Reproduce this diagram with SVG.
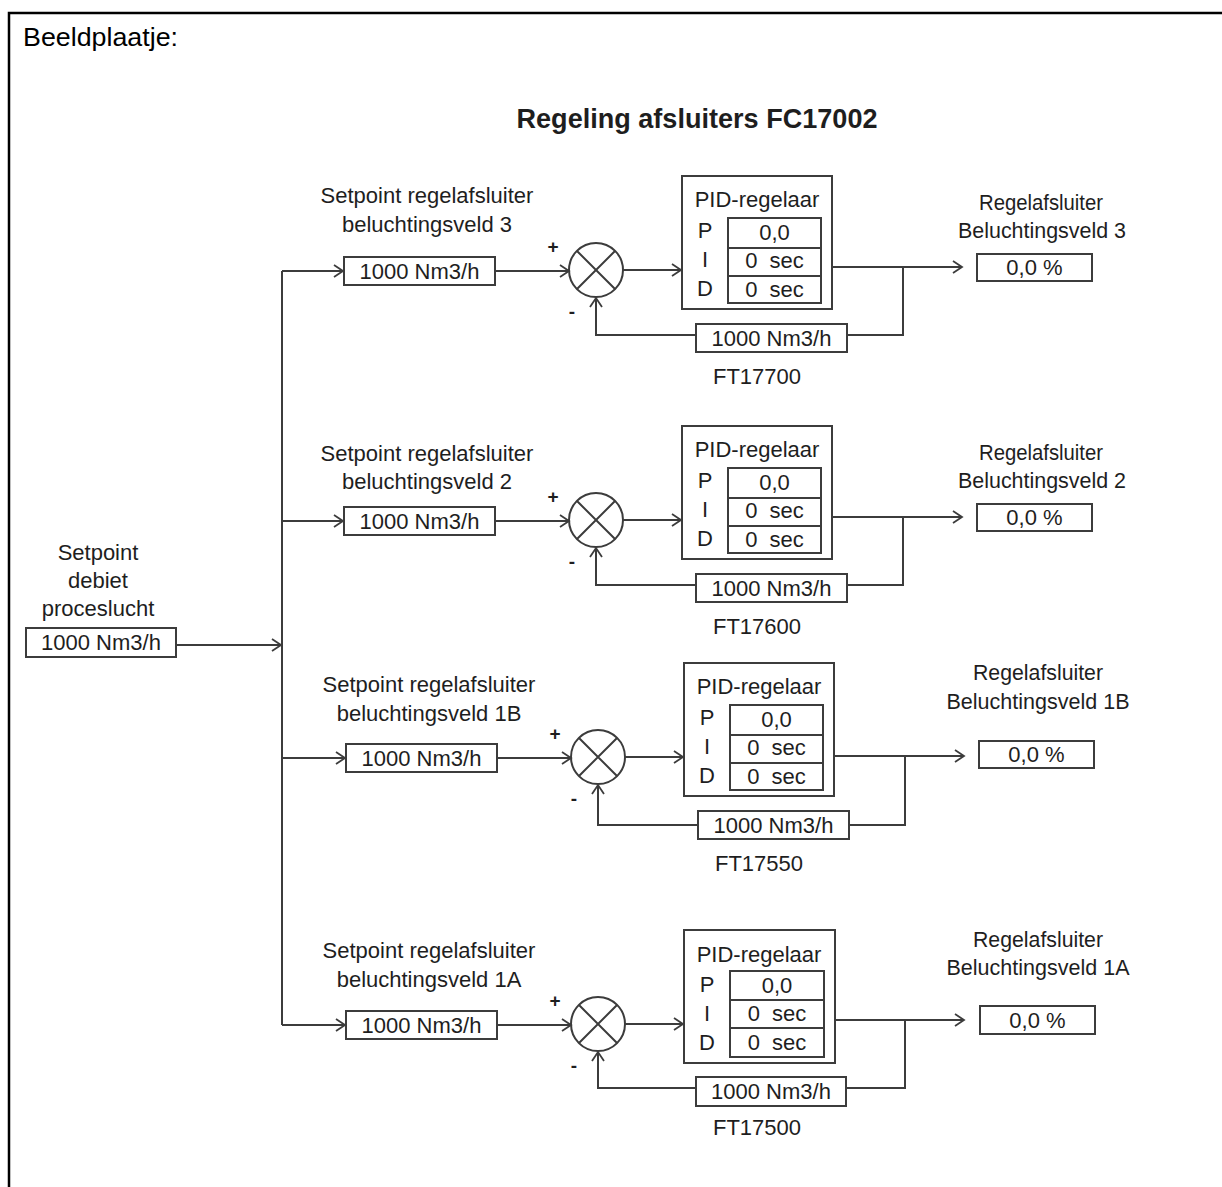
<svg xmlns="http://www.w3.org/2000/svg" width="1222" height="1187" viewBox="0 0 1222 1187">
<style>
text{font-family:"Liberation Sans",Arial,sans-serif;fill:#1e1e1e;font-size:22px}
.c{text-anchor:middle}
.o{font-size:22px}
.pm{font-size:19px;font-weight:bold}
.box{fill:#fff;stroke:#3c3c3c;stroke-width:2}
.ln{fill:none;stroke:#3c3c3c;stroke-width:2}
.pre{white-space:pre}
.title{font-weight:bold;font-size:27px}
</style>
<defs>
<marker id="arr" markerWidth="12" markerHeight="14" refX="10" refY="7" orient="auto" markerUnits="userSpaceOnUse">
<path d="M1,1 L10,7 L1,13" fill="none" stroke="#3c3c3c" stroke-width="1.8"/>
</marker>
</defs>
<rect width="1222" height="1187" fill="#fff"/>
<g id="frame">
<path d="M9,1187 V13 H1222" fill="none" stroke="#000" stroke-width="2.5"/>
<text x="23" y="46" style="font-size:26px;fill:#000" textLength="155" lengthAdjust="spacingAndGlyphs">Beeldplaatje:</text>
</g>
<g id="title"><text class="c title" x="697" y="128" textLength="361" lengthAdjust="spacingAndGlyphs">Regeling afsluiters FC17002</text></g>

<g id="setpoint-source">
<text class="c" x="98" y="560">Setpoint</text>
<text class="c" x="98" y="588">debiet</text>
<text class="c" x="98" y="616">proceslucht</text>
<rect class="box" x="26" y="628" width="150" height="29"/>
<text class="c" x="101" y="650">1000 Nm3/h</text>
</g>

<!-- Row 1 -->
<g id="sp-3">
<text class="c" x="427" y="203">Setpoint regelafsluiter</text>
<text class="c" x="427" y="232">beluchtingsveld 3</text>
<rect class="box" x="344" y="257" width="151" height="28"/>
<text class="c" x="419.5" y="279">1000 Nm3/h</text>
</g>
<g id="sum-3">
<circle class="ln" cx="596" cy="270" r="27"/>
<path class="ln" d="M577,251 L615,289 M615,251 L577,289" stroke-width="1.6"/>
<text class="c pm" x="553" y="253">+</text>
<text class="c pm" x="572" y="318">-</text>
</g>
<g id="pid-3">
<rect class="box" x="682" y="176" width="150" height="133"/>
<text class="c" x="757" y="207">PID-regelaar</text>
<rect class="box" x="728" y="218" width="93" height="85"/>
<path class="ln" d="M728,248 H821 M728,276 H821"/>
<text class="c" x="705" y="238">P</text><text class="c" x="705" y="267">I</text><text class="c" x="705" y="296">D</text>
<text class="c" x="774.5" y="240">0,0</text>
<text class="c pre" x="774.5" y="268">0  sec</text>
<text class="c pre" x="774.5" y="297">0  sec</text>
</g>
<g id="ft-3">
<rect class="box" x="696" y="324" width="151" height="28"/>
<text class="c" x="771.5" y="346">1000 Nm3/h</text>
<text class="c" x="757" y="384">FT17700</text>
</g>
<g id="out-3">
<text class="c o" x="1041" y="210" textLength="124" lengthAdjust="spacingAndGlyphs">Regelafsluiter</text>
<text class="c o" x="1042" y="238" textLength="168" lengthAdjust="spacingAndGlyphs">Beluchtingsveld 3</text>
<rect class="box" x="977" y="254" width="115" height="27"/>
<text class="c" x="1034.5" y="275">0,0 %</text>
</g>

<!-- Row 2 -->
<g id="sp-2">
<text class="c" x="427" y="461">Setpoint regelafsluiter</text>
<text class="c" x="427" y="489">beluchtingsveld 2</text>
<rect class="box" x="344" y="507" width="151" height="28"/>
<text class="c" x="419.5" y="529">1000 Nm3/h</text>
</g>
<g id="sum-2">
<circle class="ln" cx="596" cy="520" r="27"/>
<path class="ln" d="M577,501 L615,539 M615,501 L577,539" stroke-width="1.6"/>
<text class="c pm" x="553" y="503">+</text>
<text class="c pm" x="572" y="568">-</text>
</g>
<g id="pid-2">
<rect class="box" x="682" y="426" width="150" height="133"/>
<text class="c" x="757" y="457">PID-regelaar</text>
<rect class="box" x="728" y="468" width="93" height="85"/>
<path class="ln" d="M728,498 H821 M728,526 H821"/>
<text class="c" x="705" y="488">P</text><text class="c" x="705" y="517">I</text><text class="c" x="705" y="546">D</text>
<text class="c" x="774.5" y="490">0,0</text>
<text class="c pre" x="774.5" y="518">0  sec</text>
<text class="c pre" x="774.5" y="547">0  sec</text>
</g>
<g id="ft-2">
<rect class="box" x="696" y="574" width="151" height="28"/>
<text class="c" x="771.5" y="596">1000 Nm3/h</text>
<text class="c" x="757" y="634">FT17600</text>
</g>
<g id="out-2">
<text class="c o" x="1041" y="460" textLength="124" lengthAdjust="spacingAndGlyphs">Regelafsluiter</text>
<text class="c o" x="1042" y="488" textLength="168" lengthAdjust="spacingAndGlyphs">Beluchtingsveld 2</text>
<rect class="box" x="977" y="504" width="115" height="27"/>
<text class="c" x="1034.5" y="525">0,0 %</text>
</g>

<!-- Row 3 (1B) -->
<g id="sp-1B">
<text class="c" x="429" y="692">Setpoint regelafsluiter</text>
<text class="c" x="429" y="721">beluchtingsveld 1B</text>
<rect class="box" x="346" y="744" width="151" height="28"/>
<text class="c" x="421.5" y="766">1000 Nm3/h</text>
</g>
<g id="sum-1B">
<circle class="ln" cx="598" cy="757" r="27"/>
<path class="ln" d="M579,738 L617,776 M617,738 L579,776" stroke-width="1.6"/>
<text class="c pm" x="555" y="740">+</text>
<text class="c pm" x="574" y="805">-</text>
</g>
<g id="pid-1B">
<rect class="box" x="684" y="663" width="150" height="133"/>
<text class="c" x="759" y="694">PID-regelaar</text>
<rect class="box" x="730" y="705" width="93" height="85"/>
<path class="ln" d="M730,735 H823 M730,763 H823"/>
<text class="c" x="707" y="725">P</text><text class="c" x="707" y="754">I</text><text class="c" x="707" y="783">D</text>
<text class="c" x="776.5" y="727">0,0</text>
<text class="c pre" x="776.5" y="755">0  sec</text>
<text class="c pre" x="776.5" y="784">0  sec</text>
</g>
<g id="ft-1B">
<rect class="box" x="698" y="811" width="151" height="28"/>
<text class="c" x="773.5" y="833">1000 Nm3/h</text>
<text class="c" x="759" y="871">FT17550</text>
</g>
<g id="out-1B">
<text class="c o" x="1038" y="680" textLength="130" lengthAdjust="spacingAndGlyphs">Regelafsluiter</text>
<text class="c o" x="1038" y="709" textLength="183" lengthAdjust="spacingAndGlyphs">Beluchtingsveld 1B</text>
<rect class="box" x="979" y="741" width="115" height="27"/>
<text class="c" x="1036.5" y="762">0,0 %</text>
</g>

<!-- Row 4 (1A) -->
<g id="sp-1A">
<text class="c" x="429" y="958">Setpoint regelafsluiter</text>
<text class="c" x="429" y="987">beluchtingsveld 1A</text>
<rect class="box" x="346" y="1011" width="151" height="28"/>
<text class="c" x="421.5" y="1033">1000 Nm3/h</text>
</g>
<g id="sum-1A">
<circle class="ln" cx="598" cy="1024" r="27"/>
<path class="ln" d="M579,1005 L617,1043 M617,1005 L579,1043" stroke-width="1.6"/>
<text class="c pm" x="555" y="1007">+</text>
<text class="c pm" x="574" y="1072">-</text>
</g>
<g id="pid-1A">
<rect class="box" x="684" y="930" width="151" height="133"/>
<text class="c" x="759" y="962">PID-regelaar</text>
<rect class="box" x="730" y="971" width="94" height="86"/>
<path class="ln" d="M730,1000 H824 M730,1028 H824"/>
<text class="c" x="707" y="992">P</text><text class="c" x="707" y="1021">I</text><text class="c" x="707" y="1050">D</text>
<text class="c" x="777" y="993">0,0</text>
<text class="c pre" x="777" y="1021">0  sec</text>
<text class="c pre" x="777" y="1050">0  sec</text>
</g>
<g id="ft-1A">
<rect class="box" x="696" y="1077" width="150" height="29"/>
<text class="c" x="771" y="1099">1000 Nm3/h</text>
<text class="c" x="757" y="1135">FT17500</text>
</g>
<g id="out-1A">
<text class="c o" x="1038" y="947" textLength="130" lengthAdjust="spacingAndGlyphs">Regelafsluiter</text>
<text class="c o" x="1038" y="975" textLength="183" lengthAdjust="spacingAndGlyphs">Beluchtingsveld 1A</text>
<rect class="box" x="980" y="1006" width="115" height="28"/>
<text class="c" x="1037.5" y="1028">0,0 %</text>
</g>

<g id="connectors" class="ln">
<path d="M176,645 H281" marker-end="url(#arr)"/>
<path d="M282,271 V1025"/>
<path d="M282,271 H343" marker-end="url(#arr)"/>
<path d="M282,521 H343" marker-end="url(#arr)"/>
<path d="M282,758 H345" marker-end="url(#arr)"/>
<path d="M282,1025 H345" marker-end="url(#arr)"/>
<!-- row 1 -->
<path d="M495,271 H569" marker-end="url(#arr)"/>
<path d="M623,270 H681" marker-end="url(#arr)"/>
<path d="M832,267 H962" marker-end="url(#arr)"/>
<path d="M903,267 V335 H847"/>
<path d="M696,335 H596 V298" marker-end="url(#arr)"/>
<!-- row 2 -->
<path d="M495,521 H569" marker-end="url(#arr)"/>
<path d="M623,520 H681" marker-end="url(#arr)"/>
<path d="M832,517 H962" marker-end="url(#arr)"/>
<path d="M903,517 V585 H847"/>
<path d="M696,585 H596 V548" marker-end="url(#arr)"/>
<!-- row 3 -->
<path d="M497,758 H571" marker-end="url(#arr)"/>
<path d="M625,757 H683" marker-end="url(#arr)"/>
<path d="M834,756 H964" marker-end="url(#arr)"/>
<path d="M905,756 V825 H849"/>
<path d="M698,825 H598 V785" marker-end="url(#arr)"/>
<!-- row 4 -->
<path d="M497,1025 H571" marker-end="url(#arr)"/>
<path d="M625,1024 H683" marker-end="url(#arr)"/>
<path d="M835,1020 H964" marker-end="url(#arr)"/>
<path d="M905,1020 V1088 H846"/>
<path d="M696,1088 H598 V1052" marker-end="url(#arr)"/>
</g>
</svg>
